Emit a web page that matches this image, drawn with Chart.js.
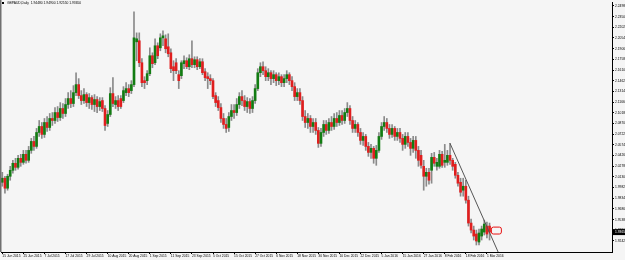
<!DOCTYPE html>
<html>
<head>
<meta charset="utf-8">
<script src="https://cdn.jsdelivr.net/npm/chart.js@4/dist/chart.umd.min.js"></script>
<style>
	html, body { margin: 0; padding: 0; background: #f5f5f5; }
	canvas { display: block; }
</style>
</head>
<body>
<canvas id="chartGbpAud" width="625" height="260"></canvas>
<script>
'use strict'

const symbol = 'GBPAUD,Daily'

// daily bars, 15 Jun 2015 .. 2 Mar 2016
const open = [
	2.0055, 2.0111, 1.9973, 2.0138, 2.0221, 2.0318, 2.0262, 2.0387, 2.0331, 2.0442,
	2.0359, 2.0497, 2.0621, 2.0552, 2.0745, 2.0828, 2.0718, 2.0883, 2.0814, 2.0939,
	2.0911, 2.1021, 2.0952, 2.1077, 2.1008, 2.1132, 2.1215, 2.1146, 2.1297, 2.1408,
	2.1256, 2.1187, 2.1270, 2.1159, 2.1228, 2.1132, 2.1201, 2.1104, 2.1187, 2.1077,
	2.0870, 2.0994, 2.1284, 2.1132, 2.1187, 2.1215, 2.1187, 2.1297, 2.1353, 2.1325,
	2.1408, 2.2001, 2.2015, 2.1711, 2.1463, 2.1463, 2.1560, 2.1808, 2.1711, 2.1946,
	2.1918, 2.2056, 2.2043, 2.1932, 2.1849, 2.1656, 2.1711, 2.1546, 2.1532, 2.1698,
	2.1739, 2.1656, 2.1767, 2.1684, 2.1753, 2.1656, 2.1725, 2.1587, 2.1518, 2.1491,
	2.1463, 2.1256, 2.1187, 2.1090, 2.0939, 2.0856, 2.0814, 2.0966, 2.1049, 2.1021,
	2.1132, 2.1242, 2.1187, 2.1104, 2.1173, 2.1077, 2.1187, 2.1353, 2.1573, 2.1656,
	2.1601, 2.1518, 2.1573, 2.1491, 2.1546, 2.1463, 2.1518, 2.1435, 2.1491, 2.1546,
	2.1463, 2.1380, 2.1242, 2.1297, 2.1187, 2.0966, 2.0883, 2.0939, 2.0828, 2.0883,
	2.0773, 2.0594, 2.0745, 2.0856, 2.0773, 2.0883, 2.0828, 2.0939, 2.0883, 2.0980,
	2.0911, 2.1021, 2.1077, 2.0911, 2.0801, 2.0856, 2.0745, 2.0635, 2.0690, 2.0552,
	2.0469, 2.0525, 2.0387, 2.0497, 2.0690, 2.0828, 2.0883, 2.0801, 2.0718, 2.0801,
	2.0690, 2.0745, 2.0663, 2.0580, 2.0690, 2.0607, 2.0525, 2.0635, 2.0497, 2.0428,
	2.0276, 2.0138, 2.0193, 2.0221, 2.0400, 2.0276, 2.0276, 2.0442, 2.0331, 2.0331,
	2.0428, 2.0359, 2.0304, 2.0152, 2.0055, 1.9945, 2.0000, 1.9807, 1.9490, 1.9393,
	1.9338, 1.9227, 1.9310, 1.9365, 1.9448, 1.9448
]
const high = [
	2.0193, 2.0138, 2.0166, 2.0276, 2.0359, 2.0387, 2.0428, 2.0442, 2.0497, 2.0497,
	2.0552, 2.0663, 2.0690, 2.0801, 2.0911, 2.0883, 2.0939, 2.0966, 2.1008, 2.1021,
	2.1090, 2.1104, 2.1159, 2.1146, 2.1215, 2.1297, 2.1325, 2.1394, 2.1573, 2.1491,
	2.1325, 2.1353, 2.1297, 2.1284, 2.1256, 2.1270, 2.1242, 2.1228, 2.1228, 2.1118,
	2.1049, 2.1366, 2.1504, 2.1242, 2.1256, 2.1256, 2.1380, 2.1435, 2.1408, 2.1463,
	2.2415, 2.2125, 2.2125, 2.1767, 2.1518, 2.1601, 2.1918, 2.1849, 2.2043, 2.1987,
	2.2112, 2.2153, 2.2098, 2.2112, 2.1905, 2.1739, 2.1767, 2.1601, 2.1739, 2.1808,
	2.1780, 2.1822, 2.2015, 2.1794, 2.1794, 2.1767, 2.1767, 2.1629, 2.1573, 2.1546,
	2.1491, 2.1297, 2.1242, 2.1146, 2.1008, 2.0939, 2.1021, 2.1132, 2.1132, 2.1215,
	2.1297, 2.1325, 2.1256, 2.1228, 2.1215, 2.1242, 2.1408, 2.1629, 2.1711, 2.1725,
	2.1656, 2.1629, 2.1601, 2.1601, 2.1573, 2.1573, 2.1546, 2.1546, 2.1601, 2.1573,
	2.1518, 2.1435, 2.1353, 2.1353, 2.1242, 2.1049, 2.1008, 2.0980, 2.0939, 2.0939,
	2.0814, 2.0801, 2.0911, 2.0911, 2.0939, 2.0966, 2.1008, 2.1021, 2.1049, 2.1049,
	2.1077, 2.1159, 2.1118, 2.0966, 2.0911, 2.0883, 2.0801, 2.0745, 2.0718, 2.0607,
	2.0580, 2.0552, 2.0566, 2.0745, 2.0883, 2.0966, 2.0939, 2.0856, 2.0856, 2.0828,
	2.0801, 2.0801, 2.0718, 2.0745, 2.0745, 2.0663, 2.0690, 2.0690, 2.0552, 2.0497,
	2.0359, 2.0249, 2.0249, 2.0456, 2.0469, 2.0387, 2.0497, 2.0483, 2.0580, 2.0497,
	2.0594, 2.0387, 2.0331, 2.0193, 2.0111, 2.0111, 2.0083, 1.9862, 1.9545, 1.9448,
	1.9393, 1.9407, 1.9448, 1.9531, 1.9503, 1.9490
]
const low = [
	2.0000, 1.9904, 1.9945, 2.0083, 2.0180, 2.0221, 2.0235, 2.0276, 2.0304, 2.0318,
	2.0331, 2.0456, 2.0497, 2.0525, 2.0690, 2.0663, 2.0676, 2.0759, 2.0773, 2.0842,
	2.0870, 2.0897, 2.0911, 2.0939, 2.0966, 2.1077, 2.1090, 2.1104, 2.1256, 2.1215,
	2.1132, 2.1146, 2.1104, 2.1077, 2.1063, 2.1035, 2.1021, 2.1049, 2.1035, 2.0773,
	2.0828, 2.0966, 2.1104, 2.1077, 2.1049, 2.1077, 2.1159, 2.1256, 2.1242, 2.1284,
	2.1380, 2.1739, 2.1656, 2.1380, 2.1353, 2.1408, 2.1532, 2.1642, 2.1684, 2.1767,
	2.1877, 2.1946, 2.1849, 2.1794, 2.1573, 2.1463, 2.1560, 2.1353, 2.1491, 2.1629,
	2.1629, 2.1615, 2.1642, 2.1642, 2.1615, 2.1629, 2.1546, 2.1463, 2.1353, 2.1408,
	2.1215, 2.1104, 2.1049, 2.0883, 2.0801, 2.0745, 2.0759, 2.0911, 2.0939, 2.0980,
	2.1077, 2.1118, 2.1049, 2.1021, 2.1008, 2.1021, 2.1146, 2.1325, 2.1518, 2.1546,
	2.1463, 2.1463, 2.1408, 2.1435, 2.1394, 2.1408, 2.1380, 2.1380, 2.1435, 2.1408,
	2.1325, 2.1187, 2.1187, 2.1132, 2.0911, 2.0814, 2.0801, 2.0745, 2.0745, 2.0718,
	2.0538, 2.0552, 2.0690, 2.0718, 2.0732, 2.0773, 2.0787, 2.0828, 2.0842, 2.0856,
	2.0870, 2.0966, 2.0856, 2.0745, 2.0745, 2.0690, 2.0580, 2.0566, 2.0497, 2.0414,
	2.0387, 2.0318, 2.0290, 2.0469, 2.0649, 2.0773, 2.0745, 2.0663, 2.0676, 2.0635,
	2.0635, 2.0607, 2.0497, 2.0525, 2.0552, 2.0428, 2.0469, 2.0387, 2.0276, 2.0249,
	1.9945, 2.0000, 2.0028, 2.0042, 2.0276, 2.0221, 2.0249, 2.0262, 2.0262, 2.0290,
	2.0304, 2.0221, 2.0111, 2.0000, 1.9862, 1.9862, 1.9766, 1.9448, 1.9352, 1.9255,
	1.9186, 1.9186, 1.9255, 1.9324, 1.9283, 1.9255
]
const close = [
	2.0111, 1.9973, 2.0138, 2.0221, 2.0318, 2.0262, 2.0387, 2.0331, 2.0442, 2.0359,
	2.0497, 2.0621, 2.0552, 2.0745, 2.0828, 2.0718, 2.0883, 2.0814, 2.0939, 2.0911,
	2.1021, 2.0952, 2.1077, 2.1008, 2.1132, 2.1215, 2.1146, 2.1297, 2.1408, 2.1256,
	2.1187, 2.1270, 2.1159, 2.1228, 2.1132, 2.1201, 2.1104, 2.1173, 2.1077, 2.0842,
	2.0994, 2.1284, 2.1146, 2.1187, 2.1104, 2.1104, 2.1325, 2.1353, 2.1297, 2.1408,
	2.2056, 2.2043, 2.1711, 2.1435, 2.1435, 2.1560, 2.1808, 2.1698, 2.1946, 2.1808,
	2.2056, 2.2084, 2.1905, 2.1836, 2.1629, 2.1601, 2.1601, 2.1463, 2.1711, 2.1739,
	2.1656, 2.1767, 2.1684, 2.1753, 2.1656, 2.1725, 2.1573, 2.1504, 2.1491, 2.1463,
	2.1242, 2.1159, 2.1090, 2.0939, 2.0856, 2.0801, 2.0966, 2.1049, 2.1021, 2.1132,
	2.1242, 2.1187, 2.1104, 2.1173, 2.1077, 2.1187, 2.1353, 2.1573, 2.1656, 2.1601,
	2.1518, 2.1573, 2.1491, 2.1546, 2.1463, 2.1518, 2.1435, 2.1491, 2.1546, 2.1463,
	2.1380, 2.1242, 2.1297, 2.1187, 2.0966, 2.0883, 2.0939, 2.0828, 2.0883, 2.0773,
	2.0594, 2.0745, 2.0856, 2.0773, 2.0883, 2.0828, 2.0939, 2.0883, 2.0980, 2.0911,
	2.1021, 2.1077, 2.0911, 2.0801, 2.0856, 2.0745, 2.0635, 2.0690, 2.0552, 2.0469,
	2.0525, 2.0387, 2.0497, 2.0690, 2.0828, 2.0883, 2.0801, 2.0718, 2.0801, 2.0690,
	2.0745, 2.0663, 2.0580, 2.0690, 2.0607, 2.0525, 2.0635, 2.0497, 2.0359, 2.0290,
	2.0138, 2.0193, 2.0083, 2.0400, 2.0318, 2.0331, 2.0442, 2.0290, 2.0359, 2.0428,
	2.0359, 2.0276, 2.0152, 2.0042, 1.9917, 2.0000, 1.9807, 1.9490, 1.9393, 1.9310,
	1.9241, 1.9352, 1.9407, 1.9476, 1.9338, 1.9365
]

// one label every 8 bars
const xTickLabels = [
	'15 Jun 2015', '25 Jun 2015', '7 Jul 2015', '17 Jul 2015', '29 Jul 2015', '10 Aug 2015',
	'20 Aug 2015', '1 Sep 2015', '11 Sep 2015', '23 Sep 2015', '5 Oct 2015', '15 Oct 2015',
	'27 Oct 2015', '6 Nov 2015', '18 Nov 2015', '30 Nov 2015', '10 Dec 2015', '22 Dec 2015',
	'5 Jan 2016', '15 Jan 2016', '27 Jan 2016', '8 Feb 2016', '18 Feb 2016', '1 Mar 2016'
]
const yTicks = [
	2.2498, 2.2350, 2.2202, 2.2054, 2.1906, 2.1758, 2.1610, 2.1462, 2.1314, 2.1166,
	2.1018, 2.0870, 2.0722, 2.0574, 2.0426, 2.0278, 2.0130, 1.9982, 1.9834, 1.9686,
	1.9538, 1.9390, 1.9242
]
const priceMin = 1.9089
const priceMax = 2.2539
const lastPrice = 1.9365

// trend line and marker drawn on the chart
const trendBars = [170, 190]
const trendPrices = [2.0594, 1.8946]
const markBars = [185.7, 189.5]
const markPrices = [1.9434, 1.9338]

const slots = 232 // bars + empty space on the right

const colors = {
	bull: '#127c12',
	bear: '#e01e1e',
	wick: '#8a8a8a',
	axis: '#000000',
	trend: '#555555',
	mark: '#e81010',
	background: '#f5f5f5',
}
const tinyFont = { family: '"Liberation Sans", Arial, sans-serif', size: 3.3 }

const labels = Array.from({ length: slots }, (_, i) => i)
const trendData = labels.map((i) => {
	let k = trendBars.indexOf(i)
	return k >= 0 ? trendPrices[k] : null
})

const mt4Frame = {
	id: 'mt4Frame',
	beforeDraw(chart) {
		let c = chart.ctx
		c.save()
		c.fillStyle = colors.background
		c.fillRect(0, 0, chart.width, chart.height)
		c.restore()
	},
	afterDraw(chart) {
		let c = chart.ctx
		let a = chart.chartArea
		let x = chart.scales.x
		let y = chart.scales.y
		let n = close.length - 1
		c.save()

		// left window edge
		c.fillStyle = '#707070'
		c.fillRect(0, 0, 1.5, a.bottom)

		// symbol line
		c.fillStyle = '#000'
		c.fillRect(2, 2, 2, 2)
		c.font = tinyFont.size + 'px ' + tinyFont.family
		c.textBaseline = 'top'
		c.fillText(symbol + '  ' + [open[n], high[n], low[n], close[n]].map((v) => v.toFixed(5)).join(' '), 7, 1.5)

		// red marker
		let mx0 = x.getPixelForValue(markBars[0])
		let mx1 = x.getPixelForValue(markBars[1])
		let my0 = y.getPixelForValue(markPrices[0])
		let my1 = y.getPixelForValue(markPrices[1])
		c.strokeStyle = colors.mark
		c.lineWidth = 1
		c.beginPath()
		c.roundRect(mx0, my0, mx1 - mx0, my1 - my0, 2)
		c.stroke()

		// bid label
		let py = y.getPixelForValue(lastPrice)
		c.fillStyle = '#000'
		c.fillRect(a.right + 1, py - 3, chart.width - a.right, 6)
		c.fillStyle = '#fff'
		c.textBaseline = 'middle'
		c.fillText(lastPrice.toFixed(5), a.right + 3, py)
		c.restore()
	},
}

let chart = new Chart(document.getElementById('chartGbpAud'), {
	type: 'bar',
	data: {
		labels: labels,
		datasets: [
			{
				data: low.map((l, i) => [l, high[i]]),
				backgroundColor: colors.wick,
				barThickness: 1,
				grouped: false,
				order: 3,
			},
			{
				data: open.map((o, i) => [o, close[i]]),
				backgroundColor: close.map((c, i) => c >= open[i] ? colors.bull : colors.bear),
				barThickness: 2,
				minBarLength: 1,
				grouped: false,
				order: 2,
			},
			{
				type: 'line',
				data: trendData,
				borderColor: colors.trend,
				borderWidth: 1,
				pointRadius: 0,
				spanGaps: true,
				order: 1,
			},
		],
	},
	options: {
		responsive: false,
		animation: false,
		layout: {
			padding: { left: 1, top: 2, right: 0, bottom: 0 },
		},
		plugins: {
			legend: { display: false },
			tooltip: { enabled: false },
		},
		scales: {
			x: {
				type: 'category',
				offset: true,
				afterFit: (scale) => { scale.height = 8 },
				grid: {
					offset: false,
					drawOnChartArea: false,
					tickLength: 2,
					color: colors.axis,
				},
				border: { color: colors.axis },
				ticks: {
					autoSkip: false,
					maxRotation: 0,
					align: 'start',
					padding: 0,
					color: '#000',
					font: tinyFont,
					callback: function (value, index) {
						if (index % 8 !== 0 || index / 8 >= xTickLabels.length) return null
						return xTickLabels[index / 8]
					},
				},
			},
			y: {
				position: 'right',
				min: priceMin,
				max: priceMax,
				afterFit: (scale) => { scale.width = 13 },
				afterBuildTicks: (scale) => { scale.ticks = yTicks.map((v) => ({ value: v })) },
				grid: {
					drawOnChartArea: false,
					tickLength: 2,
					color: colors.axis,
				},
				border: { color: colors.axis },
				ticks: {
					padding: 1,
					color: '#000',
					font: tinyFont,
					callback: (v) => v.toFixed(5),
				},
			},
		},
	},
	plugins: [mt4Frame],
});
</script>
</body>
</html>
